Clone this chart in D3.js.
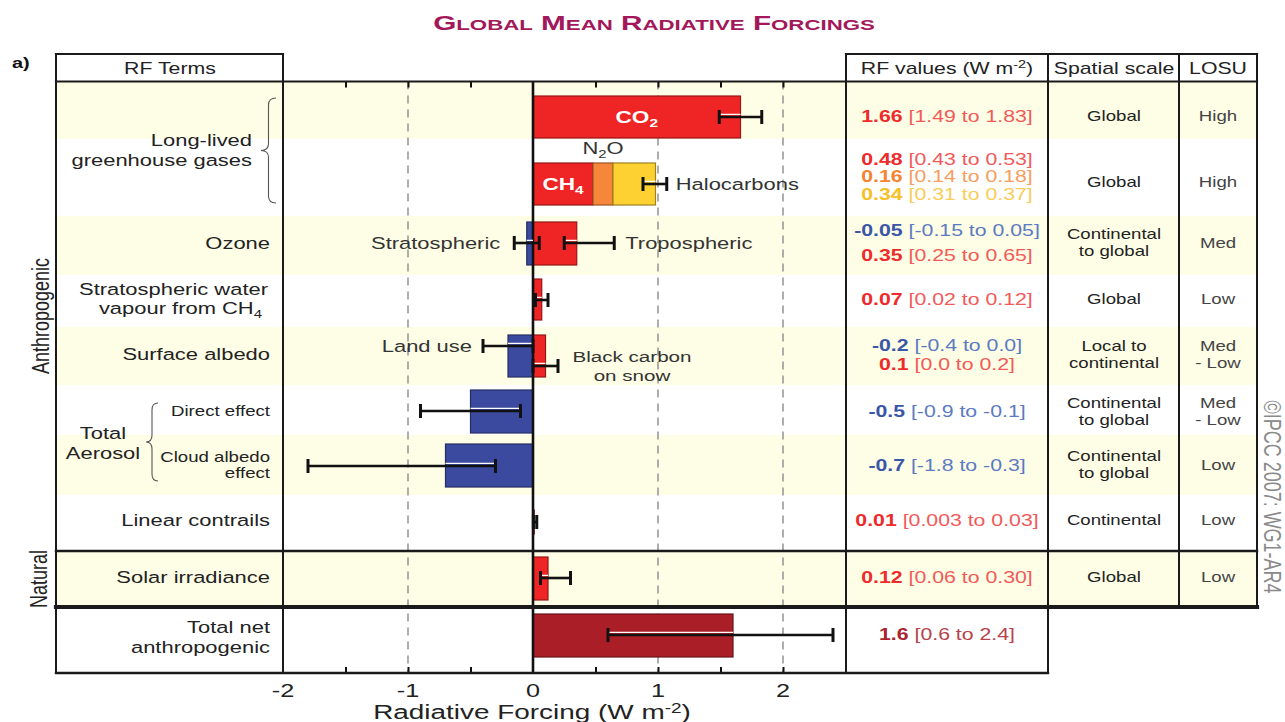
<!DOCTYPE html>
<html>
<head>
<meta charset="utf-8">
<script src="https://cdn.jsdelivr.net/npm/d3@7"></script>
<style>
	body { margin: 0; background: #fff; }
	svg { display: block; }
</style>
</head>
<body>
<div id="chart"></div>
<script>
// Global mean radiative forcings (IPCC AR4 WG1), W m-2
var terms = ["CO2", "CH4", "N2O", "Halocarbons", "Stratospheric ozone", "Tropospheric ozone",
	"Stratospheric water vapour", "Land use", "Black carbon on snow", "Aerosol direct effect",
	"Cloud albedo effect", "Linear contrails", "Solar irradiance", "Total net anthropogenic"];
var rfBest = [1.66, 0.48, 0.16, 0.34, -0.05, 0.35, 0.07, -0.2, 0.1, -0.5, -0.7, 0.01, 0.12, 1.6];
var rfLow = [1.49, 0.43, 0.14, 0.31, -0.15, 0.25, 0.02, -0.4, 0.0, -0.9, -1.8, 0.003, 0.06, 0.6];
var rfHigh = [1.83, 0.53, 0.18, 0.37, 0.05, 0.65, 0.12, 0.0, 0.2, -0.1, -0.3, 0.03, 0.30, 2.4];
var rfBestText = ["1.66", "0.48", "0.16", "0.34", "-0.05", "0.35", "0.07", "-0.2", "0.1", "-0.5", "-0.7", "0.01", "0.12", "1.6"];
var rfRangeText = ["[1.49 to 1.83]", "[0.43 to 0.53]", "[0.14 to 0.18]", "[0.31 to 0.37]", "[-0.15 to 0.05]",
	"[0.25 to 0.65]", "[0.02 to 0.12]", "[-0.4 to 0.0]", "[0.0 to 0.2]", "[-0.9 to -0.1]", "[-1.8 to -0.3]",
	"[0.003 to 0.03]", "[0.06 to 0.30]", "[0.6 to 2.4]"];
// CH4, N2O and halocarbons are stacked and share one whisker
var stackedTerms = [1, 2, 3];
var stackWhisker = [0.88, 1.07];
var spatialScale = [["Global"], ["Global"], ["Continental", "to global"], ["Global"], ["Local to", "continental"],
	["Continental", "to global"], ["Continental", "to global"], ["Continental"], ["Global"], []];
var losu = [["High"], ["High"], ["Med"], ["Low"], ["Med", "- Low"], ["Med", "- Low"], ["Low"], ["Low"], ["Low"], []];
var xTicks = [-2, -1, 0, 1, 2];
var xMinorTicks = [-1.5, -1, -0.5, 0.5, 1, 1.5, 2];
var gridValues = [-1, 1, 2];

// ---- layout ----
var W = 1285, H = 722, stretch = 1.33,
	colLeft = 56, colTerms = 283, colValues = 846, colScale = 1048, colLosu = 1179, colRight = 1257,
	headTop = 54, headBottom = 81.5;
var rowEdges = [82, 139, 216, 275, 327, 385, 435, 495, 551, 607, 673];
var cellY = [116, 182, 242.5, 299, 354.5, 411.5, 464.5, 520, 577, 634];
var creamRows = [0, 2, 4, 6, 8];
// [bar top, bar bottom, whisker y] per term
var barBand = [[96, 138, 117], [163, 205, 184], [163, 205, 184], [163, 205, 184], [222, 265, 243], [222, 265, 243],
	[279, 320, 300], [335, 377, 346], [335, 377, 366], [390, 433, 411], [444, 487, 466], [510, 534, 522],
	[557, 600, 578], [614, 657, 635]];
var valueY = [116, 159, 176, 194, 230, 255, 299, 345, 364, 411, 465, 520, 577, 634];
var colorKey = ["red", "red", "orange", "yellow", "blue", "red", "red", "blue", "red", "blue", "blue", "red", "red", "dark"];
var fills = {red: "#ee2524", orange: "#f6863a", yellow: "#fdd131", blue: "#3b4a9e", dark: "#aa1f27"};
var boldInk = {red: "#ee2b2b", orange: "#f5832f", yellow: "#f6c028", blue: "#3a56a8", dark: "#a8232e"};
var rangeInk = {red: "#f25a5a", orange: "#f79d60", yellow: "#f8cd58", blue: "#5b7bc3", dark: "#b8424c"};
var cream = "#fefde5";

var svg = d3.select("#chart").append("svg")
	.attr("width", W).attr("height", H)
	.style("font-family", "'Liberation Sans', Arial, Helvetica, sans-serif");

var x = d3.scaleLinear().domain([-2, 2.5]).range([colTerms, 845.5]);

// text helper: the figure's lettering is horizontally stretched
function addText(parent, px, py, parts, o) {
	o = o || {};
	var t = parent.append("text")
		.attr("transform", "translate(" + px + "," + py + ") scale(" + (o.sx || stretch) + ",1)" +
			(o.rotate ? " rotate(" + o.rotate + ")" : ""))
		.attr("text-anchor", o.anchor || "middle")
		.attr("font-size", o.size || 16.5)
		.attr("font-weight", o.bold ? "bold" : null)
		.attr("fill", o.color || "#222")
		.attr("dy", "0.36em");
	if (typeof parts === "string") parts = [{t: parts}];
	var shift = 0;
	parts.forEach(function (p) {
		var s = t.append("tspan").text(p.t);
		var want = p.sub ? 4 : (p.sup ? -6 : 0);
		if (want !== shift) { s.attr("dy", want - shift); shift = want; }
		if (p.sub || p.sup) s.attr("font-size", "68%");
		if (p.bold) s.attr("font-weight", "bold");
		if (p.color) s.attr("fill", p.color);
	});
	return t;
}

function brace(g, bx, y0, y1, w) {
	var m = (y0 + y1) / 2, r = 7, c = bx + w / 2;
	g.append("path")
		.attr("d", "M" + (bx + w) + "," + y0 + " Q" + c + "," + y0 + " " + c + "," + (y0 + r) +
			" L" + c + "," + (m - r) + " Q" + c + "," + m + " " + bx + "," + m +
			" Q" + c + "," + m + " " + c + "," + (m + r) + " L" + c + "," + (y1 - r) +
			" Q" + c + "," + y1 + " " + (bx + w) + "," + y1)
		.attr("fill", "none").attr("stroke", "#555").attr("stroke-width", 1.1);
}

// ---- row backgrounds ----
svg.selectAll("rect.row").data(creamRows).enter().append("rect")
	.attr("class", "row")
	.attr("x", colLeft).attr("width", colRight - colLeft)
	.attr("y", function (r) { return rowEdges[r]; })
	.attr("height", function (r) { return rowEdges[r + 1] - rowEdges[r]; })
	.attr("fill", cream);

// ---- grid and axes ----
svg.selectAll("line.grid").data(gridValues).enter().append("line")
	.attr("x1", x).attr("x2", x).attr("y1", headBottom).attr("y2", 673)
	.attr("stroke", "#9a9a9a").attr("stroke-width", 1.6).attr("stroke-dasharray", "8,6");

var topAxis = svg.append("g").attr("transform", "translate(0," + headBottom + ")")
	.call(d3.axisTop(x).tickValues(xMinorTicks).tickSizeInner(-6).tickSizeOuter(0).tickFormat(""));
var bottomAxis = svg.append("g").attr("transform", "translate(0,673)")
	.call(d3.axisBottom(x).tickValues(xMinorTicks).tickSizeInner(-6).tickSizeOuter(0).tickFormat(""));
[topAxis, bottomAxis].forEach(function (a) {
	a.select(".domain").remove();
	a.selectAll(".tick line").attr("stroke", "#111").attr("stroke-width", 2);
});
xTicks.forEach(function (v) {
	addText(svg, x(v), 690, String(v), {size: 19, color: "#222"});
});
addText(svg, 532, 711, [{t: "Radiative Forcing  (W m"}, {t: "-2", sup: true}, {t: ")"}], {size: 21, color: "#222"});

// ---- bars ----
var base = terms.map(function () { return 0; });
stackedTerms.forEach(function (i, k) {
	if (k > 0) base[i] = base[stackedTerms[k - 1]] + rfBest[stackedTerms[k - 1]];
});

svg.selectAll("rect.bar").data(terms).enter().append("rect")
	.attr("class", "bar")
	.attr("x", function (d, i) { return x(Math.min(base[i], base[i] + rfBest[i])); })
	.attr("width", function (d, i) { return Math.abs(x(base[i] + rfBest[i]) - x(base[i])); })
	.attr("y", function (d, i) { return barBand[i][0]; })
	.attr("height", function (d, i) { return barBand[i][1] - barBand[i][0]; })
	.attr("fill", function (d, i) { return fills[colorKey[i]]; })
	.attr("stroke", function (d, i) { return d3.color(fills[colorKey[i]]).darker(1.3); })
	.attr("stroke-width", 1.2);

// zero line
svg.append("line").attr("x1", x(0)).attr("x2", x(0)).attr("y1", headBottom).attr("y2", 673)
	.attr("stroke", "#111").attr("stroke-width", 2.6);

// ---- whiskers ----
var whiskers = [];
terms.forEach(function (d, i) {
	if (stackedTerms.indexOf(i) < 0) {
		whiskers.push({lo: rfLow[i], hi: rfHigh[i], y: barBand[i][2],
			b0: Math.min(0, rfBest[i]), b1: Math.max(0, rfBest[i])});
	}
});
var stackTop = stackedTerms[stackedTerms.length - 1];
whiskers.push({lo: stackWhisker[0], hi: stackWhisker[1], y: barBand[stackTop][2],
	b0: 0, b1: base[stackTop] + rfBest[stackTop]});

var wg = svg.append("g");
whiskers.forEach(function (w) {
	var h0 = Math.max(w.lo, w.b0), h1 = Math.min(w.hi, w.b1);
	if (h1 > h0) {
		wg.append("line").attr("x1", x(h0)).attr("x2", x(h1)).attr("y1", w.y - 2.6).attr("y2", w.y - 2.6)
			.attr("stroke", "#fff").attr("stroke-width", 1.3);
	}
	wg.append("line").attr("x1", x(w.lo)).attr("x2", x(w.hi)).attr("y1", w.y).attr("y2", w.y)
		.attr("stroke", "#111").attr("stroke-width", 2.6);
	[w.lo, w.hi].forEach(function (v) {
		wg.append("line").attr("x1", x(v)).attr("x2", x(v)).attr("y1", w.y - 7).attr("y2", w.y + 7)
			.attr("stroke", "#111").attr("stroke-width", 3);
	});
});

// ---- labels on the bars ----
addText(svg, x(rfBest[0] / 2), barBand[0][2], [{t: "CO"}, {t: "2", sub: true}], {size: 17, bold: true, color: "#fff"});
addText(svg, x(rfBest[1] / 2), barBand[1][2], [{t: "CH"}, {t: "4", sub: true}], {size: 17, bold: true, color: "#fff"});
addText(svg, x(base[2] + rfBest[2] / 2), 148, [{t: "N"}, {t: "2", sub: true}, {t: "O"}], {color: "#333"});
addText(svg, x(stackWhisker[1]) + 9, barBand[3][2], "Halocarbons", {anchor: "start", color: "#333"});
addText(svg, x(rfLow[4]) - 14, barBand[4][2], "Stratospheric", {anchor: "end", color: "#333"});
addText(svg, x(rfHigh[5]) + 11, barBand[5][2], "Tropospheric", {anchor: "start", color: "#333"});
addText(svg, x(rfLow[7]) - 11, barBand[7][2], "Land use", {anchor: "end", color: "#333"});
addText(svg, 632, 356, "Black carbon", {size: 15.5, color: "#333"});
addText(svg, 632, 375, "on snow", {size: 15.5, color: "#333"});

// ---- RF terms column ----
var lt = svg.append("g");
addText(lt, 252, 140, "Long-lived", {anchor: "end"});
addText(lt, 252, 160, "greenhouse gases", {anchor: "end"});
brace(lt, 261, 98, 203, 15);
addText(lt, 270, 243, "Ozone", {anchor: "end"});
addText(lt, 268, 289, "Stratospheric water", {anchor: "end"});
addText(lt, 262, 308, [{t: "vapour from CH"}, {t: "4", sub: true}], {anchor: "end"});
addText(lt, 270, 354, "Surface albedo", {anchor: "end"});
addText(lt, 270, 411, "Direct effect", {anchor: "end", size: 14});
addText(lt, 270, 457, "Cloud albedo", {anchor: "end", size: 14});
addText(lt, 270, 473, "effect", {anchor: "end", size: 14});
addText(lt, 103, 433, "Total");
addText(lt, 103, 453, "Aerosol");
brace(lt, 146, 403, 481, 12);
addText(lt, 270, 520, "Linear contrails", {anchor: "end"});
addText(lt, 270, 577, "Solar irradiance", {anchor: "end"});
addText(lt, 270, 627, "Total net", {anchor: "end"});
addText(lt, 270, 647, "anthropogenic", {anchor: "end"});
addText(svg, 40, 316, "Anthropogenic", {size: 18, rotate: -90});
addText(svg, 38, 579, "Natural", {size: 18, rotate: -90});

// ---- right hand table ----
terms.forEach(function (d, i) {
	var k = colorKey[i];
	addText(svg, 947, valueY[i], [{t: rfBestText[i], bold: true, color: boldInk[k]}, {t: " " + rfRangeText[i], color: rangeInk[k]}],
		{size: 16});
});
function cellLines(lines, cx, r, o) {
	var step = 17;
	lines.forEach(function (s, j) {
		addText(svg, cx, cellY[r] + (j - (lines.length - 1) / 2) * step, s, o);
	});
}
spatialScale.forEach(function (lines, r) { cellLines(lines, 1114, r, {size: 14, color: "#222"}); });
losu.forEach(function (lines, r) { cellLines(lines, 1218, r, {size: 14, color: "#444"}); });

// ---- headers ----
addText(svg, 170, 68, "RF Terms", {size: 16});
addText(svg, 947, 68, [{t: "RF values (W m"}, {t: "-2", sup: true}, {t: ")"}], {size: 16});
addText(svg, 1114, 68, "Spatial scale", {size: 16});
addText(svg, 1218, 68, "LOSU", {size: 16});
addText(svg, 12, 63, "a)", {size: 15, bold: true, anchor: "start", color: "#111"});

// ---- table rules ----
var rules = [
	[colLeft, headTop, colTerms, headTop, 2.2], [colValues, headTop, colRight, headTop, 2.2],
	[colLeft, headBottom, colRight, headBottom, 2.2],
	[colLeft, 551, colRight, 551, 2.4], [colLeft, 607, colRight, 607, 4.2], [colLeft, 673, colScale, 673, 2.4],
	[colLeft, headTop, colLeft, 673, 2], [colTerms, headTop, colTerms, 673, 2], [colValues, headTop, colValues, 673, 2],
	[colScale, headTop, colScale, 673, 2], [colLosu, headTop, colLosu, 607, 2], [colRight, headTop, colRight, 607, 2]
];
svg.selectAll("line.rule").data(rules).enter().append("line")
	.attr("x1", function (d) { return d[0]; }).attr("y1", function (d) { return d[1]; })
	.attr("x2", function (d) { return d[2]; }).attr("y2", function (d) { return d[3]; })
	.attr("stroke", "#1a1a1a").attr("stroke-width", function (d) { return d[4]; })
	.attr("stroke-linecap", "square");

// ---- title and credit ----
var title = svg.append("text").attr("text-anchor", "middle").attr("font-weight", "bold")
	.attr("fill", "#a3185a").attr("transform", "translate(654,30)");
"Global Mean Radiative Forcings".split(" ").forEach(function (w, i) {
	title.append("tspan").attr("font-size", 20).text((i ? " " : "") + w.charAt(0).toUpperCase());
	title.append("tspan").attr("font-size", 15).text(w.slice(1).toUpperCase());
});
var tl = title.node().getComputedTextLength();
title.attr("transform", "translate(654,30) scale(" + (442 / tl) + ",1)");

addText(svg, 1273, 497, "\u00a9IPCC 2007: WG1-AR4", {size: 18, rotate: 90, color: "#8a8a8a"});
</script>
</body>
</html>
